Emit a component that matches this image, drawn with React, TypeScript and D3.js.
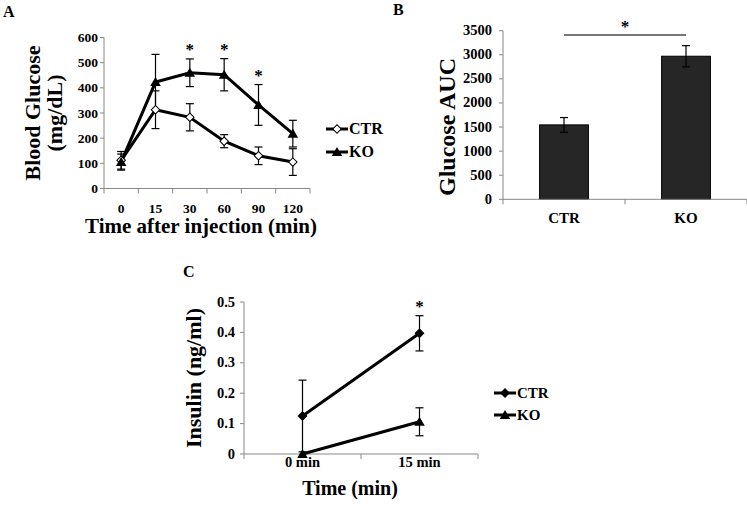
import React from 'react';
import * as d3 from 'd3';

// panel A: glucose tolerance test
const timesA = ['0', '15', '30', '60', '90', '120'];
const ctrGlucose = [112, 313, 283, 188, 130, 105];
const ctrGlucoseErr = [35, 75, 54, 26, 35, 53];
const koGlucose = [105, 423, 460, 452, 332, 218];
const koGlucoseErr = [32, 110, 55, 64, 81, 53];
const sigA = [false, false, true, true, true, false];
const glucoseTicks = [0, 100, 200, 300, 400, 500, 600];

// panel B: area under curve
const groupsB = ['CTR', 'KO'];
const auc = [1545, 2970];
const aucErr = [152, 220];
const aucTicks = [0, 500, 1000, 1500, 2000, 2500, 3000, 3500];

// panel C: insulin
const timesC = ['0 min', '15 min'];
const ctrInsulin = [0.125, 0.397];
const ctrInsulinErr = [0.118, 0.058];
const koInsulin = [0, 0.106];
const koInsulinErr = [0, 0.046];
const sigC = [false, true];
const insulinTicks = [0, 0.1, 0.2, 0.3, 0.4, 0.5];

const FONT = '"Liberation Serif", "Times New Roman", serif';
const AXIS = '#888';

const tri = d3.symbol(d3.symbolTriangle, 48)();
const dia = d3.symbol(d3.symbolSquare, 36)();

const Marker = ({ kind, x, y, open }: any) =>
  kind === 'tri' ? (
    <path d={tri} transform={`translate(${x},${y + 1})`} fill="#000" />
  ) : (
    <path d={dia} transform={`translate(${x},${y}) rotate(45)`} fill={open ? '#fff' : '#000'} stroke="#000" strokeWidth={1} />
  );

const ErrBar = ({ x, y0, y1, cap = 4 }: any) => (
  <g stroke="#000" strokeWidth={1.2}>
    <line x1={x} x2={x} y1={y0} y2={y1} />
    <line x1={x - cap} x2={x + cap} y1={y0} y2={y0} />
    <line x1={x - cap} x2={x + cap} y1={y1} y2={y1} />
  </g>
);

const Legend = ({ x, y, gap, items, size }: any) => (
  <g>
    {items.map((it: any, i: number) => (
      <g key={it.label} transform={`translate(${x},${y + i * gap})`}>
        <line x1={0} x2={22} y1={0} y2={0} stroke="#000" strokeWidth={3} />
        <Marker kind={it.kind} x={11} y={0} open={it.open} />
        <text x={23} y={5} fontSize={size} fontWeight="bold">{it.label}</text>
      </g>
    ))}
  </g>
);

function PanelA() {
  const x = d3.scaleBand().domain(timesA).range([104, 310]);
  const y = d3.scaleLinear().domain([0, 600]).range([188.5, 37.5]);
  const cx = (t: string) => (x(t) as number) + x.bandwidth() / 2;
  const line = d3.line<number>().x((_, i) => cx(timesA[i])).y(d => y(d));
  const edges = timesA.map(t => x(t) as number).concat([310]);
  return (
    <g>
      <text x={3} y={17} fontSize={16} fontWeight="bold">A</text>
      <line x1={104} x2={310} y1={y(0)} y2={y(0)} stroke={AXIS} />
      <line x1={104} x2={104} y1={y(0)} y2={y(600)} stroke={AXIS} />
      {edges.map(e => <line key={e} x1={e} x2={e} y1={y(0)} y2={y(0) + 5} stroke={AXIS} />)}
      {glucoseTicks.map(t => (
        <g key={t}>
          <line x1={100} x2={104} y1={y(t)} y2={y(t)} stroke={AXIS} />
          <text x={98} y={y(t) + 4.5} textAnchor="end" fontSize={13.5} fontWeight="bold">{t}</text>
        </g>
      ))}
      {timesA.map(t => (
        <text key={t} x={cx(t)} y={212.5} textAnchor="middle" fontSize={13.5} fontWeight="bold">{t}</text>
      ))}
      {ctrGlucose.map((v, i) => <ErrBar key={'c' + i} x={cx(timesA[i])} y0={y(v + ctrGlucoseErr[i])} y1={y(v - ctrGlucoseErr[i])} />)}
      {koGlucose.map((v, i) => <ErrBar key={'k' + i} x={cx(timesA[i])} y0={y(v + koGlucoseErr[i])} y1={y(v - koGlucoseErr[i])} />)}
      <path d={line(ctrGlucose) as string} fill="none" stroke="#000" strokeWidth={3} />
      <path d={line(koGlucose) as string} fill="none" stroke="#000" strokeWidth={3} />
      {ctrGlucose.map((v, i) => <Marker key={'cm' + i} kind="dia" open x={cx(timesA[i])} y={y(v)} />)}
      {koGlucose.map((v, i) => <Marker key={'km' + i} kind="tri" x={cx(timesA[i])} y={y(v)} />)}
      {sigA.map((s, i) => s && (
        <text key={'s' + i} x={cx(timesA[i])} y={y(koGlucose[i] + koGlucoseErr[i]) - 4} textAnchor="middle" fontSize={17} fontWeight="bold">*</text>
      ))}
      <text transform={`translate(40,113) rotate(-90)`} textAnchor="middle" fontSize={22} fontWeight="bold">Blood Glucose</text>
      <text transform={`translate(62,113) rotate(-90)`} textAnchor="middle" fontSize={22} fontWeight="bold">(mg/dL)</text>
      <text x={201} y={233} textAnchor="middle" fontSize={21} fontWeight="bold">Time after injection (min)</text>
      <Legend x={326} y={129} gap={23} size={16} items={[{ label: 'CTR', kind: 'dia', open: true }, { label: 'KO', kind: 'tri' }]} />
    </g>
  );
}

function PanelB() {
  const x = d3.scaleBand().domain(groupsB).range([503, 747]);
  const y = d3.scaleLinear().domain([0, 3500]).range([199.3, 30.7]);
  const bw = x.bandwidth() * 0.4;
  const cx = (g: string) => (x(g) as number) + x.bandwidth() / 2;
  const edges = groupsB.map(g => x(g) as number).concat([747]);
  return (
    <g>
      <text x={393} y={15} fontSize={16} fontWeight="bold">B</text>
      {groupsB.map((g, i) => (
        <rect key={g} x={cx(g) - bw / 2} y={y(auc[i])} width={bw} height={y(0) - y(auc[i])} fill="#262626" stroke="#000" strokeWidth={1} />
      ))}
      <line x1={503} x2={747} y1={y(0)} y2={y(0)} stroke={AXIS} />
      <line x1={503} x2={503} y1={y(0)} y2={y(3500)} stroke={AXIS} />
      {edges.map(e => <line key={e} x1={e} x2={e} y1={y(0)} y2={y(0) + 5} stroke={AXIS} />)}
      {aucTicks.map(t => (
        <g key={t}>
          <line x1={499} x2={503} y1={y(t)} y2={y(t)} stroke={AXIS} />
          <text x={492} y={y(t) + 4.5} textAnchor="end" fontSize={14.5} fontWeight="bold">{t}</text>
        </g>
      ))}
      {groupsB.map((g, i) => (
        <g key={'e' + g}>
          <ErrBar x={cx(g)} y0={y(auc[i] + aucErr[i])} y1={y(auc[i] - aucErr[i])} />
          <text x={cx(g)} y={223} textAnchor="middle" fontSize={15} fontWeight="bold">{g}</text>
        </g>
      ))}
      <line x1={cx('CTR')} x2={cx('KO')} y1={35} y2={35} stroke="#777" strokeWidth={2} />
      <text x={(cx('CTR') + cx('KO')) / 2} y={31.5} textAnchor="middle" fontSize={17} fontWeight="bold">*</text>
      <text transform={`translate(455,127) rotate(-90)`} textAnchor="middle" fontSize={24} fontWeight="bold">Glucose AUC</text>
    </g>
  );
}

function PanelC() {
  const x = d3.scaleBand().domain(timesC).range([244, 478]);
  const y = d3.scaleLinear().domain([0, 0.5]).range([454, 302]);
  const cx = (t: string) => (x(t) as number) + x.bandwidth() / 2;
  const line = d3.line<number>().x((_, i) => cx(timesC[i])).y(d => y(d));
  const edges = timesC.map(t => x(t) as number).concat([478]);
  return (
    <g>
      <text x={183} y={277} fontSize={16} fontWeight="bold">C</text>
      <line x1={244} x2={478} y1={y(0)} y2={y(0)} stroke={AXIS} />
      <line x1={244} x2={244} y1={y(0)} y2={y(0.5)} stroke={AXIS} />
      {edges.map(e => <line key={e} x1={e} x2={e} y1={y(0)} y2={y(0) + 5} stroke={AXIS} />)}
      {insulinTicks.map(t => (
        <g key={t}>
          <line x1={240} x2={244} y1={y(t)} y2={y(t)} stroke={AXIS} />
          <text x={235} y={y(t) + 4.5} textAnchor="end" fontSize={14.5} fontWeight="bold">{t === 0 ? '0' : t.toFixed(1)}</text>
        </g>
      ))}
      {timesC.map(t => (
        <text key={t} x={cx(t)} y={467} textAnchor="middle" fontSize={14.5} fontWeight="bold">{t}</text>
      ))}
      {ctrInsulin.map((v, i) => <ErrBar key={'c' + i} x={cx(timesC[i])} y0={y(v + ctrInsulinErr[i])} y1={y(Math.max(0, v - ctrInsulinErr[i]))} />)}
      {koInsulin.map((v, i) => koInsulinErr[i] > 0 && <ErrBar key={'k' + i} x={cx(timesC[i])} y0={y(v + koInsulinErr[i])} y1={y(v - koInsulinErr[i])} />)}
      <path d={line(ctrInsulin) as string} fill="none" stroke="#000" strokeWidth={3} />
      <path d={line(koInsulin) as string} fill="none" stroke="#000" strokeWidth={3} />
      {ctrInsulin.map((v, i) => <Marker key={'cm' + i} kind="dia" x={cx(timesC[i])} y={y(v)} />)}
      {koInsulin.map((v, i) => <Marker key={'km' + i} kind="tri" x={cx(timesC[i])} y={y(v)} />)}
      {sigC.map((s, i) => s && (
        <text key={'s' + i} x={cx(timesC[i])} y={y(ctrInsulin[i] + ctrInsulinErr[i]) - 4} textAnchor="middle" fontSize={17} fontWeight="bold">*</text>
      ))}
      <text transform={`translate(201,378) rotate(-90)`} textAnchor="middle" fontSize={22} fontWeight="bold">Insulin (ng/ml)</text>
      <text x={350} y={495} textAnchor="middle" fontSize={20} fontWeight="bold">Time (min)</text>
      <Legend x={494} y={393} gap={22} size={15} items={[{ label: 'CTR', kind: 'dia' }, { label: 'KO', kind: 'tri' }]} />
    </g>
  );
}

export default function App() {
  return (
    <div style={{ position: 'absolute', left: 0, top: 0, background: '#fff' }}>
      <svg width={747} height={509} style={{ display: 'block', fontFamily: FONT }}>
        <rect width={747} height={509} fill="#fff" />
        <PanelA />
        <PanelB />
        <PanelC />
      </svg>
    </div>
  );
}
